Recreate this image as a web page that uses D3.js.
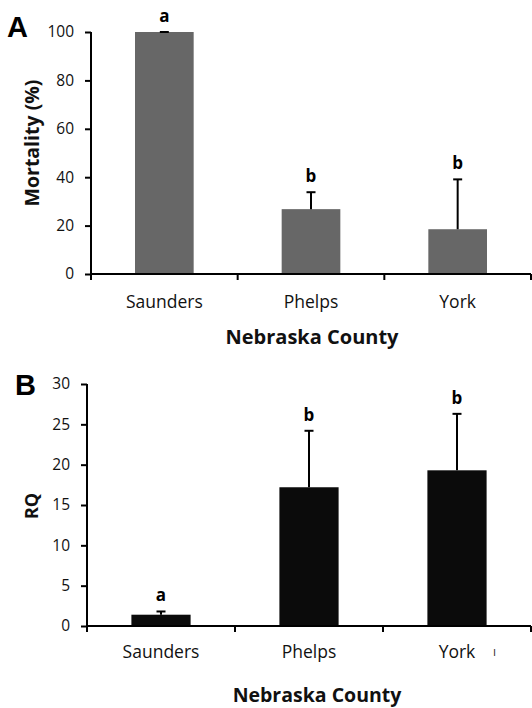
<!DOCTYPE html>
<html><head><meta charset="utf-8">
<script src="https://cdn.jsdelivr.net/npm/d3@7"></script>
<style>
html,body{margin:0;padding:0;background:#fff;}
svg{display:block;}
</style></head>
<body>
<svg id="chart" width="532" height="708"></svg>
<script>
// ---- data ----
const counties = ["Saunders", "Phelps", "York"];
const mortality = [100, 26.8, 18.5];
const mortalityErr = [0, 7.0, 20.6];
const mortalityLetters = ["a", "b", "b"];
const mortalityTicks = [0, 20, 40, 60, 80, 100];

const rq = [1.4, 17.2, 19.3];
const rqErr = [0.4, 7.0, 7.0];
const rqLetters = ["a", "b", "b"];
const rqTicks = [0, 5, 10, 15, 20, 25, 30];

const svg = d3.select("#chart");
const FONT = "'Open Sans', sans-serif";

function panel(opt) {
  const g = svg.append("g");
  const x = d3.scaleBand().domain(counties).range([opt.x0, opt.x1])
    .paddingInner(0.6).paddingOuter(0.3);
  const y = d3.scaleLinear().domain(opt.domain).range([opt.yBottom, opt.yTop]);

  // bars
  g.selectAll("rect.bar").data(counties).join("rect")
    .attr("x", d => x(d)).attr("width", x.bandwidth())
    .attr("y", (d, i) => y(opt.values[i]))
    .attr("height", (d, i) => y(0) - y(opt.values[i]))
    .attr("fill", opt.color);

  // error bars (upper only)
  const capW = 9;
  counties.forEach((c, i) => {
    const cx = x(c) + x.bandwidth() / 2;
    const top = y(opt.values[i] + opt.errs[i]);
    g.append("line").attr("x1", cx).attr("x2", cx)
      .attr("y1", y(opt.values[i])).attr("y2", top)
      .attr("stroke", "#000").attr("stroke-width", 2);
    g.append("line").attr("x1", cx - capW / 2).attr("x2", cx + capW / 2)
      .attr("y1", top).attr("y2", top)
      .attr("stroke", "#000").attr("stroke-width", 2);
    g.append("text").attr("x", cx).attr("y", top - 10)
      .attr("text-anchor", "middle").attr("font-family", FONT)
      .attr("font-weight", "bold").attr("font-size", 17)
      .text(opt.letters[i]);
  });

  // y axis
  const yAxis = d3.axisLeft(y).tickValues(opt.ticks).tickSize(6).tickPadding(11)
    .tickSizeOuter(0).tickFormat(d3.format("d"));
  const ya = g.append("g").attr("transform", `translate(${opt.x0},0)`).call(yAxis);
  ya.select(".domain").attr("stroke-width", 2).attr("d", `M0,${opt.yBottom + 1}V${opt.yTop}`);
  ya.selectAll(".tick line").attr("stroke-width", 2);
  ya.selectAll(".tick text").attr("font-family", FONT).attr("font-size", 15.5).attr("fill", "#111");

  // x axis line + category boundary ticks
  g.append("line").attr("x1", opt.x0 - 1).attr("x2", opt.x1)
    .attr("y1", y(0)).attr("y2", y(0)).attr("stroke", "#000").attr("stroke-width", 2);
  const bounds = d3.range(counties.length + 1).map(i => opt.x0 + i * x.step());
  g.selectAll("line.xt").data(bounds).join("line")
    .attr("x1", d => d).attr("x2", d => d)
    .attr("y1", y(0)).attr("y2", y(0) + 6)
    .attr("stroke", "#000").attr("stroke-width", 2);
  g.selectAll("text.cat").data(counties).join("text")
    .attr("x", d => x(d) + x.bandwidth() / 2)
    .attr("y", y(0) + opt.catOffset)
    .attr("text-anchor", "middle").attr("font-family", FONT)
    .attr("font-size", 17.5).attr("fill", "#111").text(d => d);

  // x title
  g.append("text").attr("x", opt.titleX).attr("y", opt.titleY)
    .attr("text-anchor", "middle").attr("font-family", FONT)
    .attr("font-weight", "bold").attr("font-size", opt.titleSize).attr("fill", "#111")
    .text("Nebraska County");

  // y title
  g.append("text")
    .attr("transform", `translate(${opt.yLabX},${opt.yLabY}) rotate(-90)`)
    .attr("text-anchor", "middle").attr("font-family", FONT)
    .attr("font-weight", "bold").attr("font-size", opt.yLabSize).attr("fill", "#111")
    .text(opt.yLabel);

  // panel letter
  g.append("text").attr("x", opt.letterX).attr("y", opt.letterY)
    .attr("font-family", "'Liberation Sans', Arial, sans-serif")
    .attr("font-weight", "bold").attr("font-size", 29).attr("fill", "#000")
    .text(opt.panel);
  return {x, y, g};
}

panel({
  panel: "A", letterX: 7, letterY: 37,
  x0: 91, x1: 531, yBottom: 274, yTop: 32, domain: [0, 100],
  values: mortality, errs: mortalityErr, letters: mortalityLetters, ticks: mortalityTicks,
  color: "#676767", catOffset: 34, titleX: 312, titleY: 344, titleSize: 20,
  yLabel: "Mortality (%)", yLabSize: 19.5, yLabX: 39, yLabY: 143
});

const pB = panel({
  panel: "B", letterX: 15, letterY: 395,
  x0: 87, x1: 531, yBottom: 626, yTop: 384, domain: [0, 30],
  values: rq, errs: rqErr, letters: rqLetters, ticks: rqTicks,
  color: "#0b0b0b", catOffset: 32, titleX: 317, titleY: 702, titleSize: 19.5,
  yLabel: "RQ", yLabSize: 18, yLabX: 38, yLabY: 506
});

// small stray mark after "York" in panel B (present in the original figure)
pB.g.append("text").attr("x", pB.x("York") + pB.x.bandwidth() / 2 + 36)
  .attr("y", pB.y(0) + 30).attr("font-family", FONT).attr("font-size", 12)
  .attr("fill", "#333").text("ı");
</script>
</body></html>
